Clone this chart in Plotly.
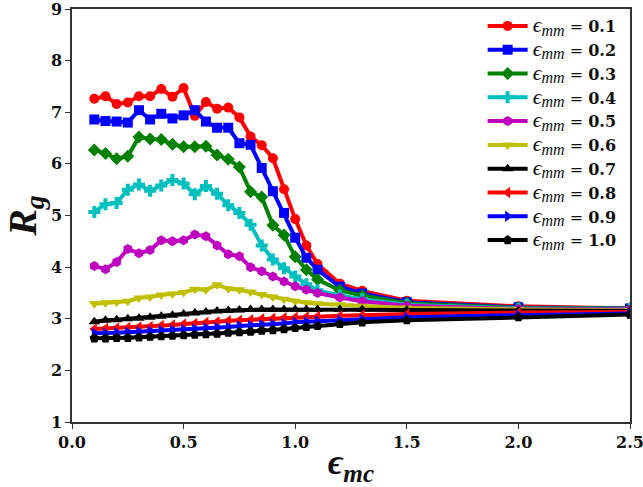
import plotly.graph_objects as go

x = [0.1, 0.15, 0.2, 0.25, 0.3, 0.35, 0.4, 0.45, 0.5, 0.55, 0.6, 0.65, 0.7, 0.75,
     0.8, 0.85, 0.9, 0.95, 1.0, 1.05, 1.1, 1.2, 1.3, 1.5, 2.0, 2.5]

r01 = [7.26, 7.31, 7.16, 7.19, 7.31, 7.31, 7.45, 7.30, 7.47, 6.93, 7.20, 7.07, 7.09, 6.90,
       6.53, 6.36, 6.11, 5.51, 4.93, 4.42, 4.06, 3.68, 3.54, 3.35, 3.24, 3.20]
r02 = [6.86, 6.83, 6.82, 6.80, 7.04, 6.86, 6.97, 6.88, 6.94, 7.04, 6.82, 6.70, 6.70, 6.40,
       6.37, 5.92, 5.47, 5.05, 4.57, 4.18, 3.95, 3.62, 3.49, 3.32, 3.22, 3.20]
r03 = [6.27, 6.20, 6.10, 6.15, 6.52, 6.48, 6.47, 6.38, 6.33, 6.33, 6.34, 6.17, 6.09, 5.94,
       5.46, 5.36, 4.81, 4.62, 4.20, 3.95, 3.76, 3.55, 3.45, 3.30, 3.21, 3.20]
r04 = [5.07, 5.22, 5.24, 5.50, 5.60, 5.48, 5.58, 5.69, 5.62, 5.41, 5.57, 5.42, 5.20, 5.05,
       4.82, 4.42, 4.15, 3.98, 3.82, 3.67, 3.55, 3.45, 3.38, 3.27, 3.20, 3.19]
r05 = [4.02, 3.96, 4.10, 4.35, 4.27, 4.33, 4.52, 4.50, 4.52, 4.63, 4.60, 4.42, 4.25, 4.21,
       4.00, 3.92, 3.82, 3.72, 3.63, 3.56, 3.50, 3.41, 3.34, 3.25, 3.19, 3.18]
r06 = [3.29, 3.31, 3.32, 3.34, 3.40, 3.42, 3.46, 3.48, 3.51, 3.57, 3.56, 3.66, 3.58, 3.56,
       3.52, 3.47, 3.42, 3.38, 3.34, 3.31, 3.29, 3.27, 3.24, 3.21, 3.18, 3.16]
r07 = [2.94, 2.97, 2.98, 3.00, 3.01, 3.03, 3.05, 3.07, 3.09, 3.11, 3.13, 3.15, 3.16, 3.17,
       3.18, 3.18, 3.18, 3.18, 3.18, 3.18, 3.18, 3.18, 3.18, 3.17, 3.16, 3.15]
r08 = [2.80, 2.81, 2.82, 2.83, 2.84, 2.85, 2.87, 2.88, 2.90, 2.91, 2.93, 2.94, 2.96, 2.97,
       2.98, 3.00, 3.01, 3.02, 3.03, 3.04, 3.05, 3.06, 3.07, 3.09, 3.12, 3.13]
r09 = [2.72, 2.72, 2.73, 2.74, 2.75, 2.76, 2.77, 2.78, 2.79, 2.80, 2.82, 2.83, 2.84, 2.86,
       2.87, 2.89, 2.90, 2.91, 2.93, 2.94, 2.95, 2.97, 2.99, 3.03, 3.07, 3.10]
r10 = [2.62, 2.62, 2.63, 2.63, 2.64, 2.65, 2.66, 2.67, 2.68, 2.69, 2.70, 2.71, 2.73, 2.74,
       2.75, 2.77, 2.78, 2.80, 2.82, 2.84, 2.86, 2.90, 2.93, 2.97, 3.03, 3.08]

eps_mm = ["0.1", "0.2", "0.3", "0.4", "0.5", "0.6", "0.7", "0.8", "0.9", "1.0"]
series = [r01, r02, r03, r04, r05, r06, r07, r08, r09, r10]
colors = ["#ff0000", "#0000ff", "#008000", "#00bfbf", "#bf00bf",
          "#bfbf00", "#000000", "#ff0000", "#0000ff", "#000000"]
symbols = ["circle", "square", "diamond", "cross", "hexagon",
           "triangle-down", "triangle-up", "triangle-left", "triangle-right", "pentagon"]

FONT = "Liberation Serif"
TICKFONT = "DejaVu Serif"

fig = go.Figure()
for lab, ys, c, s in zip(eps_mm, series, colors, symbols):
    fig.add_trace(go.Scatter(
        x=x, y=ys, mode="lines+markers",
        name=(f"<span style='font-family:Liberation Serif;font-size:22px'><i>ϵ</i></span>"
              f"<sub><span style='font-family:Liberation Serif;font-size:16px'><i>mm</i></span></sub>"
              f" = <b>{lab}</b>"),
        line=dict(color=c, width=4),
        marker=dict(color=c, symbol=s, size=10, line=dict(width=0)),
    ))

axis_common = dict(
    showline=True, linecolor="#333333", linewidth=1.5, mirror=True,
    ticks="outside", ticklen=5, tickwidth=1.2, tickcolor="#333333",
    showgrid=False, zeroline=False, automargin=False, ticklabeloverflow="allow",
    tickfont=dict(family=TICKFONT, size=16, color="#111111", weight="bold"),
)

fig.update_layout(
    width=643, height=487,
    margin=dict(l=72, r=13, t=9, b=65, autoexpand=False),
    paper_bgcolor="white", plot_bgcolor="white",
    xaxis=dict(range=[0, 2.5], tickvals=[0, 0.5, 1.0, 1.5, 2.0, 2.5],
               ticktext=["0.0", "0.5", "1.0", "1.5", "2.0", "2.5"],
               title=dict(text="<b><i>ϵ</i><sub><i>mc</i></sub></b>",
                          font=dict(family=FONT, size=36, color="#111111"), standoff=0),
               **axis_common),
    yaxis=dict(range=[1, 9], tickvals=[1, 2, 3, 4, 5, 6, 7, 8, 9],
               title=dict(text="<b><i>R</i><sub><i>g</i></sub></b>",
                          font=dict(family=FONT, size=40, color="#111111"), standoff=10),
               **axis_common),
    legend=dict(x=0.985, y=1.0, xanchor="right", yanchor="top",
                bgcolor="rgba(255,255,255,0.8)", borderwidth=0,
                font=dict(family=TICKFONT, size=16, color="#111111"),
                itemwidth=40, tracegroupgap=0),
    showlegend=True,
)

fig.write_html("out.html", config={"displayModeBar": False},
               post_script="document.body.style.margin='0';document.body.style.overflow='hidden';")
